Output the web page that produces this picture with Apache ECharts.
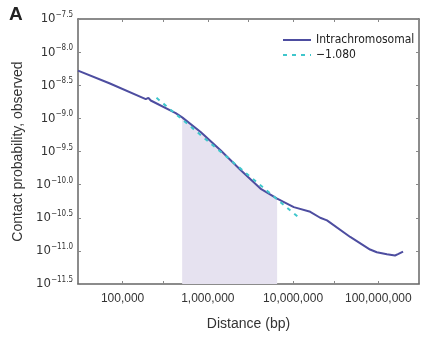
<!DOCTYPE html>
<html>
<head>
<meta charset="utf-8">
<script src="https://cdn.jsdelivr.net/npm/echarts@6/dist/echarts.min.js"></script>
<style>
html,body{margin:0;padding:0;background:#ffffff;}
#chart{width:435px;height:338px;}
</style>
</head>
<body>
<div id="chart"></div>
<script>
// Distance in bp (x) and log10 of observed contact probability (y)
const distances = [30000, 70000, 187000, 201000, 214000, 420000, 500000, 824000, 1410000, 2420000, 4140000, 6500000, 10200000, 15900000, 20800000, 25000000, 46800000, 80000000, 96000000, 126000000, 157000000, 170000000, 195000000];
const logProb   = [-8.28, -8.47, -8.71, -8.69, -8.73, -8.92, -8.985, -9.205, -9.48, -9.78, -10.06, -10.21, -10.34, -10.41, -10.50, -10.54, -10.79, -10.98, -11.02, -11.05, -11.07, -11.05, -11.01];
// Power-law fit (slope -1.080) endpoints
const fitDistances = [250000, 12000000];
const fitLogProb = [-8.69, -10.51];
// Shaded fit range
const shadeRange = [500000, 6500000];
// Axis ticks
const xLabelValues = [100000, 1000000, 10000000, 100000000];
const xTickValues = [100000, 300000, 1000000, 3000000, 10000000, 30000000, 100000000];
const xRange = [30000, 300000000];
const yTicks = [-11.5, -11.0, -10.5, -10.0, -9.5, -9.0, -8.5, -8.0, -7.5];
const seriesNames = ['Intrachromosomal', '\u22121.080'];

const lg = Math.log10;
const curve = distances.map((d, i) => [lg(d), logProb[i]]);
const shade = distances.map((d, i) => [d, logProb[i]])
  .filter(p => p[0] >= shadeRange[0] && p[0] <= shadeRange[1])
  .map(p => [lg(p[0]), p[1]]);
const fit = fitDistances.map((d, i) => [lg(d), fitLogProb[i]]);

const narrow = "'Liberation Sans Narrow','DejaVu Sans Condensed',sans-serif";
const sans = "'Liberation Sans',Arial,sans-serif";
const axisCol = '#666666';

function xAxisDef(pos, showLabels) {
  return {
    type: 'value', position: pos,
    min: lg(xRange[0]), max: lg(xRange[1]),
    name: showLabels ? 'Distance (bp)' : '',
    nameLocation: 'middle', nameGap: 33,
    nameTextStyle: {fontSize: 14, color: '#333', fontFamily: sans},
    axisLine: {show: true, onZero: false, lineStyle: {color: axisCol, width: 1.5}},
    axisTick: {show: true, inside: true, length: 3, lineStyle: {color: '#888'}, customValues: xTickValues.map(lg)},
    axisLabel: {show: showLabels, customValues: xLabelValues.map(lg), margin: 9, fontSize: 12, color: '#333', fontFamily: sans,
      formatter: v => Math.round(Math.pow(10, v)).toLocaleString('en-US')},
    splitLine: {show: false}
  };
}
function yAxisDef(pos, showLabels) {
  return {
    type: 'value', position: pos,
    min: yTicks[0], max: yTicks[yTicks.length - 1], interval: 0.5,
    name: showLabels ? 'Contact probability, observed' : '',
    nameLocation: 'middle', nameGap: 53,
    nameTextStyle: {fontSize: 14, color: '#333', fontFamily: sans},
    axisLine: {show: true, onZero: false, lineStyle: {color: axisCol, width: 1.5}},
    axisTick: {show: true, inside: true, length: 3, lineStyle: {color: '#888'}},
    axisLabel: {show: showLabels, margin: 5, color: '#333',
      formatter: v => '{b|10}{s|\u2212' + Math.abs(v).toFixed(1) + '}',
      rich: {
        b: {fontSize: 13, fontFamily: narrow, color: '#333', lineHeight: 16},
        s: {fontSize: 8, fontFamily: narrow, color: '#333', verticalAlign: 'top', lineHeight: 16}
      }},
    splitLine: {show: false}
  };
}

const chart = echarts.init(document.getElementById('chart'), null, {renderer: 'canvas'});
chart.setOption({
  animation: false,
  backgroundColor: '#ffffff',
  grid: {left: 78, right: 16, top: 19, bottom: 54},
  xAxis: [xAxisDef('bottom', true), xAxisDef('top', false)],
  yAxis: [yAxisDef('left', true), yAxisDef('right', false)],
  legend: {
    data: seriesNames, orient: 'vertical', left: 282, top: 34,
    itemWidth: 28, itemHeight: 14, itemGap: 3, padding: 0,
    itemStyle: {opacity: 0},
    textStyle: {fontSize: 12, color: '#222', fontFamily: narrow}
  },
  graphic: [{
    type: 'text', left: 9, top: 5,
    style: {text: 'A', fontSize: 19, fontWeight: 'bold', fill: '#222', fontFamily: sans}
  }],
  series: [
    {
      name: 'shade', type: 'line', data: shade, symbol: 'none', silent: true,
      lineStyle: {width: 0}, areaStyle: {color: '#e6e2f0', opacity: 1, origin: 'start'}, z: 1
    },
    {
      name: seriesNames[0], type: 'line', data: curve, symbol: 'none',
      lineStyle: {color: '#4d4da0', width: 2}, itemStyle: {color: '#4d4da0'}, z: 3
    },
    {
      name: seriesNames[1], type: 'line', data: fit, symbol: 'none',
      lineStyle: {color: '#3fc6cc', width: 2, type: [4, 5]}, itemStyle: {color: '#3fc6cc'}, z: 4
    }
  ]
});
</script>
</body>
</html>
